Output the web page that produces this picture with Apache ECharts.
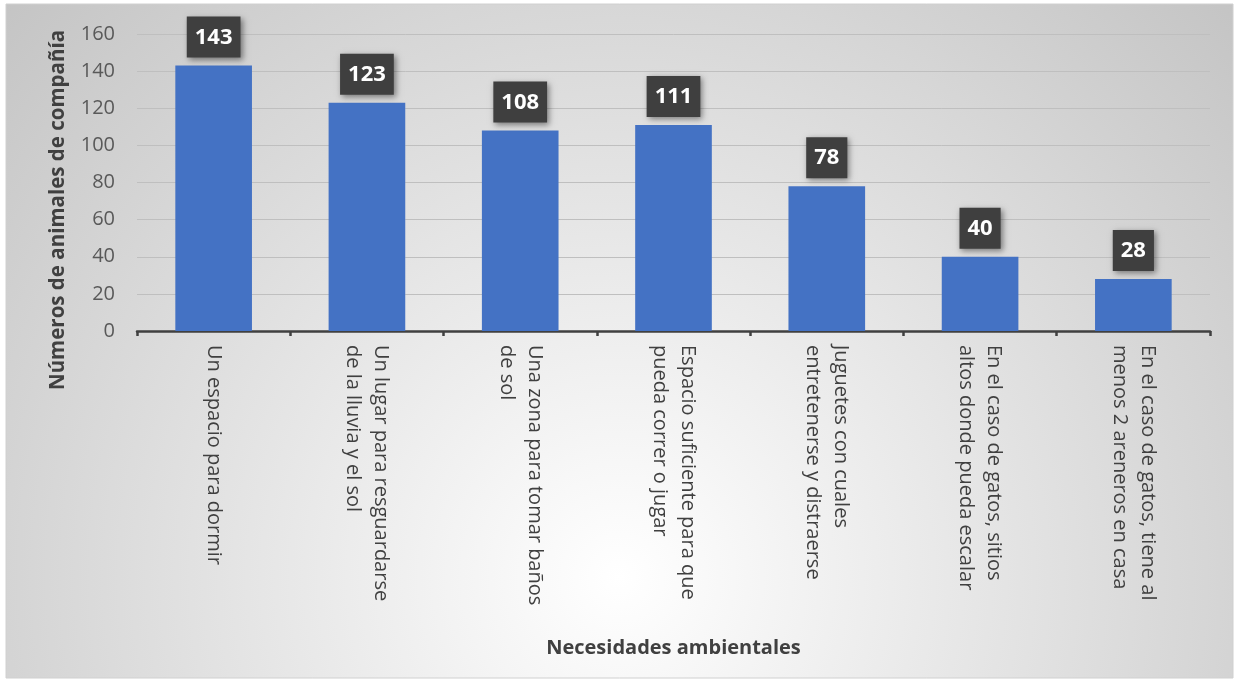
<!DOCTYPE html>
<html>
<head>
<meta charset="utf-8">
<script src="https://cdn.jsdelivr.net/npm/echarts@6/dist/echarts.min.js"></script>
<style>
  html, body { margin: 0; padding: 0; background: #fff; }
  #chart { width: 1239px; height: 682px; }
</style>
</head>
<body>
<div id="chart"></div>
<script>
// categorías (saltos de línea como en el original)
const categories = [
  'Un espacio para dormir',
  'Un lugar para resguardarse\nde la lluvia y el sol',
  'Una zona para tomar baños\nde sol',
  'Espacio suficiente para que\npueda correr o jugar',
  'Juguetes con cuales\nentretenerse y distraerse',
  'En el caso de gatos, sitios\naltos donde pueda escalar',
  'En el caso de gatos, tiene al\nmenos 2 areneros en casa'
]
const values = [143, 123, 108, 111, 78, 40, 28]
const yTicks = [0, 20, 40, 60, 80, 100, 120, 140, 160]

const font = 'Open Sans'
const chart = echarts.init(document.getElementById('chart'))

const option = {
  animation: false,
  textStyle: { fontFamily: font },
  graphic: [
    {
      type: 'rect',
      z: -10,
      shape: { x: 6, y: 4, width: 1227, height: 674 },
      style: {
        fill: {
          type: 'radial',
          x: 0.5,
          y: 0.85,
          r: 1.25,
          colorStops: [
            { offset: 0, color: '#ffffff' },
            { offset: 1, color: '#c4c4c4' }
          ]
        },
        stroke: '#d0d0d0',
        lineWidth: 1
      }
    },
    {
      type: 'text',
      x: 58,
      y: 210,
      rotation: Math.PI / 2,
      style: {
        text: 'Números de animales de compañía',
        fontFamily: font,
        fontSize: 20.5,
        fontWeight: 'bold',
        fill: '#404040',
        align: 'center',
        verticalAlign: 'middle'
      }
    }
  ],
  grid: {
    left: 137,
    right: 29,
    top: 34,
    bottom: 351
  },
  xAxis: {
    type: 'category',
    data: categories,
    name: 'Necesidades ambientales',
    nameLocation: 'middle',
    nameGap: 307,
    nameTextStyle: {
      fontFamily: font,
      fontSize: 20,
      fontWeight: 'bold',
      color: '#404040'
    },
    axisLine: { lineStyle: { color: '#404040', width: 2.5 } },
    axisTick: { show: true, length: 5, lineStyle: { color: '#404040', width: 2.5 } },
    axisLabel: {
      interval: 0,
      rotate: -90,
      margin: 14,
      fontSize: 20,
      lineHeight: 28,
      color: '#404040'
    }
  },
  yAxis: {
    type: 'value',
    min: yTicks[0],
    max: yTicks[yTicks.length - 1],
    interval: 20,
    axisLine: { show: false },
    axisTick: { show: false },
    axisLabel: {
      margin: 22,
      fontSize: 20,
      color: '#595959'
    },
    splitLine: { lineStyle: { color: '#bfbfbf', width: 1 } }
  },
  series: [
    {
      type: 'bar',
      data: values,
      barWidth: '50%',
      itemStyle: { color: '#4472C4' },
      emphasis: { disabled: true },
      label: {
        show: true,
        position: 'top',
        distance: 8,
        color: '#ffffff',
        fontFamily: font,
        fontSize: 22,
        fontWeight: 'bold',
        lineHeight: 24,
        backgroundColor: '#3f3f3f',
        padding: [9, 8, 8, 8],
        shadowBlur: 6,
        shadowColor: 'rgba(0,0,0,0.45)',
        shadowOffsetX: 2,
        shadowOffsetY: 2
      }
    }
  ]
}

chart.setOption(option)
</script>
</body>
</html>
